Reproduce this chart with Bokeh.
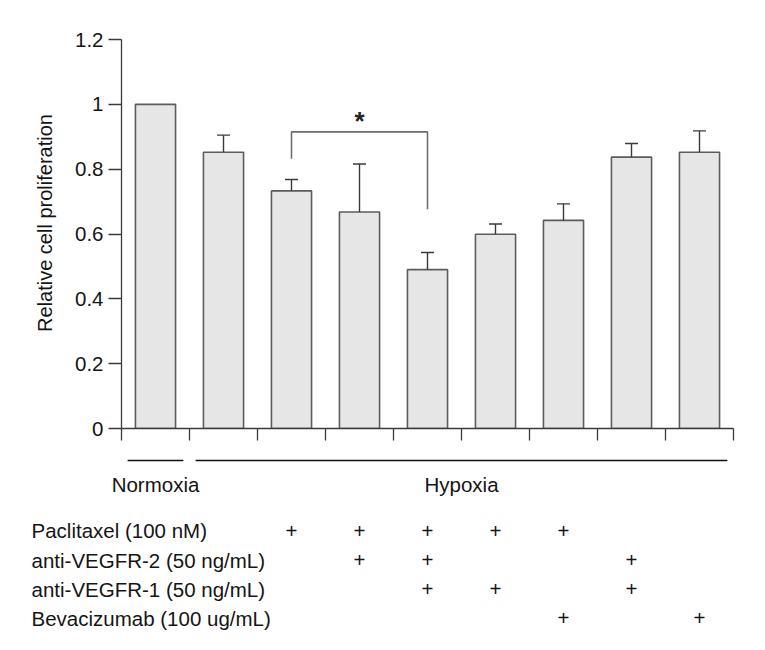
import math
from bokeh.plotting import figure
from bokeh.layouts import column
from bokeh.models import Range1d, FixedTicker, Whisker, TeeHead, ColumnDataSource
from bokeh.core.properties import value
from bokeh.embed import file_html
from bokeh.resources import INLINE

# ---------------- data ----------------
conditions = ["Normoxia", "Hypoxia", "Hypoxia", "Hypoxia", "Hypoxia",
              "Hypoxia", "Hypoxia", "Hypoxia", "Hypoxia"]
proliferation = [1.000, 0.852, 0.733, 0.668, 0.490, 0.599, 0.642, 0.837, 0.852]
error_upper = [0.000, 0.053, 0.035, 0.148, 0.053, 0.032, 0.051, 0.042, 0.066]

treatments = ["Paclitaxel (100 nM)", "anti-VEGFR-2 (50 ng/mL)",
              "anti-VEGFR-1 (50 ng/mL)", "Bevacizumab (100 ug/mL)"]
paclitaxel = [0, 0, 1, 1, 1, 1, 1, 0, 0]
anti_vegfr2 = [0, 0, 0, 1, 1, 0, 0, 1, 0]
anti_vegfr1 = [0, 0, 0, 0, 1, 1, 0, 1, 0]
bevacizumab = [0, 0, 0, 0, 0, 0, 1, 0, 1]

groups = ["Normoxia", "Hypoxia"]
group_start = [0, 1]
group_end = [1, 9]

y_ticks = [0, 0.2, 0.4, 0.6, 0.8, 1.0, 1.2]
y_tick_labels = ["0", "0.2", "0.4", "0.6", "0.8", "1", "1.2"]
y_max = 1.2

# significance bracket between bar 3 and bar 5
sig_left, sig_right = 2, 4
bracket_top = 0.915
bracket_left_end = 0.832
bracket_right_end = 0.676
sig_text = "*"

# ---------------- style / layout ----------------
FONT = "Liberation Sans"
FS = "20.5px"
TXT = "#151515"
AX = "#3a3a3a"

W = 749
LEFT, RIGHT = 121, 16
FRAME_TOP, AXIS_TOP, AXIS_ZERO = 17, 39, 428
BOTTOM1 = 17
H1 = AXIS_ZERO + BOTTOM1
H2 = 634 - H1
FRAME_W = W - LEFT - RIGHT

n = len(proliferation)
centers = [i + 0.5 for i in range(n)]
px_x = FRAME_W / n
px_y = (AXIS_ZERO - AXIS_TOP) / y_max

p = figure(width=W, height=H1, x_range=Range1d(0, n),
           y_range=Range1d(0, y_max + (AXIS_TOP - FRAME_TOP) / px_y),
           output_backend="svg", toolbar_location=None,
           min_border_left=LEFT, min_border_right=RIGHT, min_border_top=FRAME_TOP,
           min_border_bottom=BOTTOM1)
p.frame_align = False
p.outline_line_color = None
p.xgrid.visible = False
p.ygrid.visible = False

ya = p.yaxis[0]
ya.bounds = (0, y_max)
ya.ticker = FixedTicker(ticks=y_ticks)
ya.major_label_overrides = {t: l for t, l in zip(y_ticks, y_tick_labels)}
ya.minor_tick_line_color = None
ya.major_tick_in = 0
ya.major_tick_out = 13
ya.major_label_standoff = 5
ya.axis_line_color = AX
ya.major_tick_line_color = AX
ya.axis_line_width = 1.3
ya.major_tick_line_width = 1.3
ya.major_label_text_font = FONT
ya.major_label_text_font_size = FS
ya.major_label_text_color = TXT
ya.axis_label = "Relative cell proliferation"
ya.axis_label_text_font = FONT
ya.axis_label_text_font_size = "20px"
ya.axis_label_text_font_style = "normal"
ya.axis_label_text_color = TXT
ya.axis_label_standoff = 16

xa = p.xaxis[0]
xa.ticker = FixedTicker(ticks=list(range(n + 1)))
xa.major_label_overrides = {i: "" for i in range(n + 1)}
xa.minor_tick_line_color = None
xa.major_tick_in = 0
xa.major_tick_out = 12
xa.major_label_standoff = 0
xa.major_label_text_font_size = "0px"
xa.axis_line_color = AX
xa.major_tick_line_color = AX
xa.axis_line_width = 1.3
xa.major_tick_line_width = 1.3

# bars
bar_src = ColumnDataSource(dict(x=centers, top=proliferation, cond=conditions))
p.vbar(x="x", top="top", bottom=0, width=0.59, source=bar_src,
       fill_color="#e6e6e6", line_color="#5c5c5c", line_width=1.6)

# error bars (upper only)
ex = [c for c, e in zip(centers, error_upper) if e > 0]
elo = [v for v, e in zip(proliferation, error_upper) if e > 0]
eup = [v + e for v, e in zip(proliferation, error_upper) if e > 0]
err_src = ColumnDataSource(dict(x=ex, lower=elo, upper=eup))
p.add_layout(Whisker(source=err_src, base="x", lower="lower", upper="upper",
                     line_color="#3a3a3a", line_width=1.4, lower_head=None,
                     upper_head=TeeHead(size=13, line_color="#3a3a3a", line_width=1.4),
                     level="overlay"))

# significance bracket
bx = [centers[sig_left], centers[sig_left], centers[sig_right], centers[sig_right]]
by = [bracket_left_end, bracket_top, bracket_top, bracket_right_end]
p.line(bx, by, line_color="#6e6e6e", line_width=1.6)
p.text(x=[(centers[sig_left] + centers[sig_right]) / 2], y=[bracket_top + 0.035],
       text=[sig_text], text_align="center", text_baseline="middle",
       text_font=value(FONT), text_font_size="26px", text_color="#222222",
       text_font_style="bold")

# ---------------- lower panel: groups and treatment table ----------------
y_top = -BOTTOM1 / px_y
q = figure(width=W, height=H2, output_backend="svg", toolbar_location=None,
           x_range=Range1d(-LEFT / px_x, (W - LEFT) / px_x),
           y_range=Range1d(y_top - H2 / px_y, y_top),
           x_axis_type=None, y_axis_type=None,
           min_border=0, min_border_left=0, min_border_right=0,
           min_border_top=0, min_border_bottom=0)
q.frame_align = False
q.outline_line_color = None

g_line_y = -32 / px_y
g_text_y = -56 / px_y
inset = 0.09
q.segment(x0=[s + inset for s in group_start], x1=[e - inset for e in group_end],
          y0=[g_line_y] * len(groups), y1=[g_line_y] * len(groups),
          line_color="#111111", line_width=1.5)
q.text(x=[(s + e) / 2 for s, e in zip(group_start, group_end)],
       y=[g_text_y] * len(groups), text=groups, text_align="center",
       text_baseline="middle", text_font=value(FONT), text_font_size=FS,
       text_color=TXT)

row_y = [-102 / px_y, -131.5 / px_y, -160.5 / px_y, -189.5 / px_y]
label_x = -(LEFT - 31) / px_x
q.text(x=[label_x] * len(treatments), y=row_y, text=treatments, text_align="left",
       text_baseline="middle", text_font=value(FONT), text_font_size=FS,
       text_color=TXT)
px, py = [], []
for row, flags in enumerate([paclitaxel, anti_vegfr2, anti_vegfr1, bevacizumab]):
    for i, f in enumerate(flags):
        if f:
            px.append(centers[i])
            py.append(row_y[row])
q.text(x=px, y=py, text=["+"] * len(px), text_align="center", text_baseline="middle",
       text_font=value(FONT), text_font_size=FS, text_color=TXT)

open("out.html", "w").write(file_html(column(p, q), INLINE))
